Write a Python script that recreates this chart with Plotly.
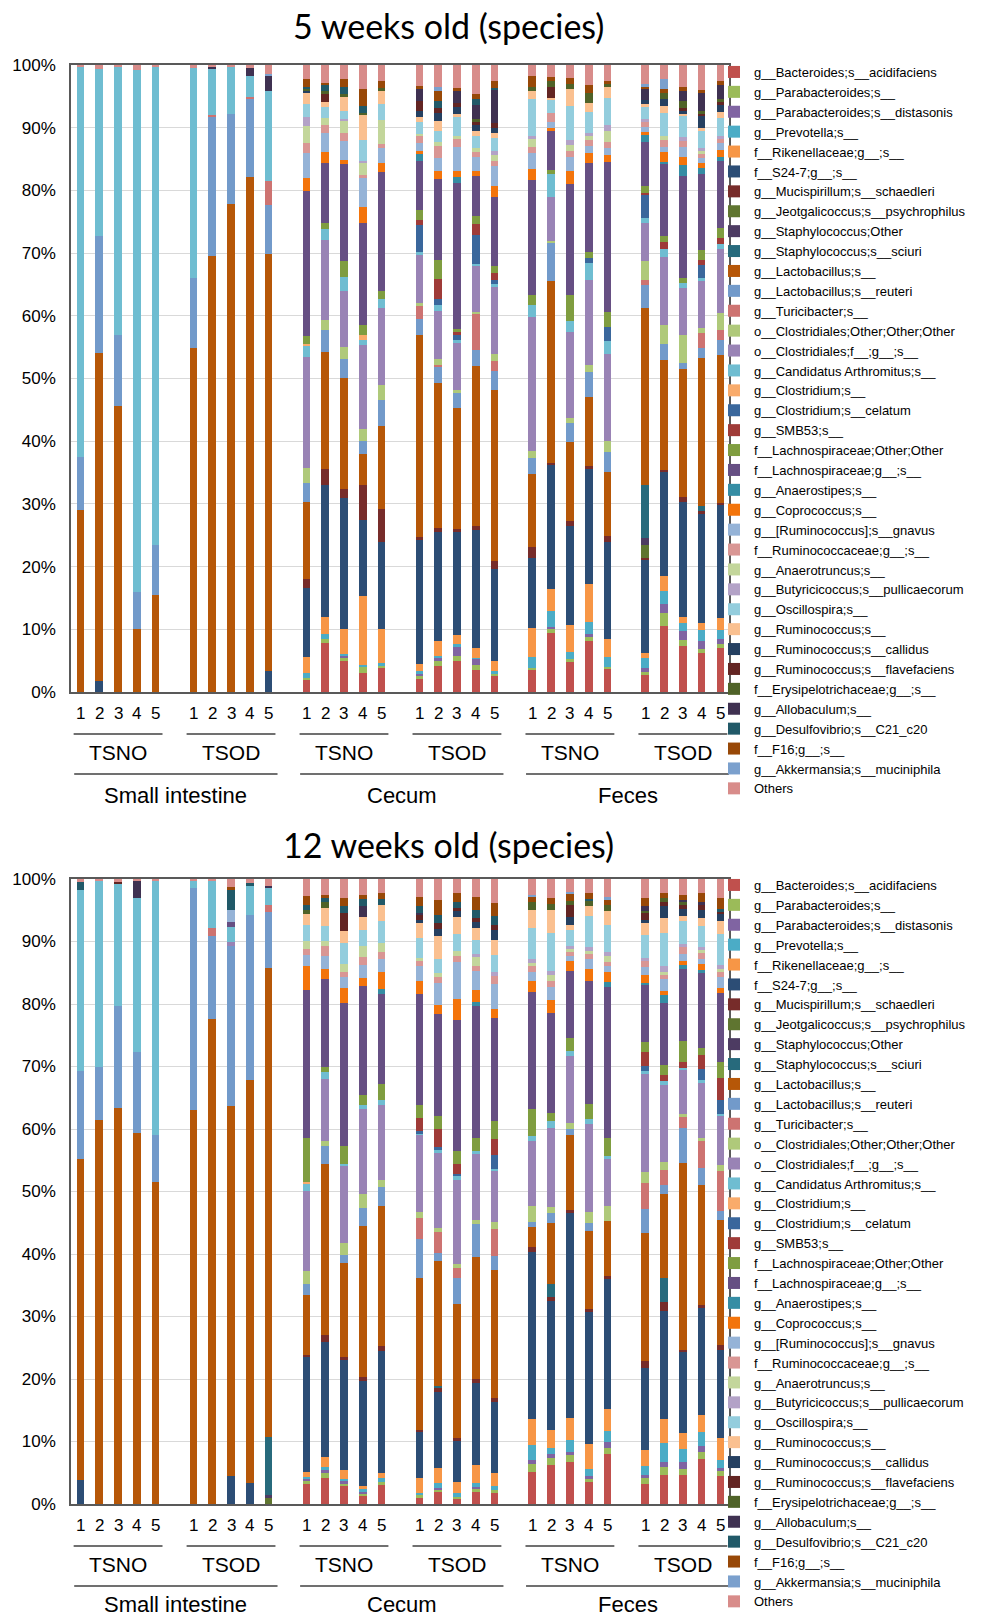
import plotly.graph_objects as go

W, H = 981, 1617

SPECIES = [
    "g__Bacteroides;s__acidifaciens", "g__Parabacteroides;s__", "g__Parabacteroides;s__distasonis",
    "g__Prevotella;s__", "f__Rikenellaceae;g__;s__", "f__S24-7;g__;s__",
    "g__Mucispirillum;s__schaedleri", "g__Jeotgalicoccus;s__psychrophilus", "g__Staphylococcus;Other",
    "g__Staphylococcus;s__sciuri", "g__Lactobacillus;s__", "g__Lactobacillus;s__reuteri",
    "g__Turicibacter;s__", "o__Clostridiales;Other;Other;Other", "o__Clostridiales;f__;g__;s__",
    "g__Candidatus Arthromitus;s__", "g__Clostridium;s__", "g__Clostridium;s__celatum",
    "g__SMB53;s__", "f__Lachnospiraceae;Other;Other", "f__Lachnospiraceae;g__;s__",
    "g__Anaerostipes;s__", "g__Coprococcus;s__", "g__[Ruminococcus];s__gnavus",
    "f__Ruminococcaceae;g__;s__", "g__Anaerotruncus;s__", "g__Butyricicoccus;s__pullicaecorum",
    "g__Oscillospira;s__", "g__Ruminococcus;s__", "g__Ruminococcus;s__callidus",
    "g__Ruminococcus;s__flavefaciens", "f__Erysipelotrichaceae;g__;s__", "g__Allobaculum;s__",
    "g__Desulfovibrio;s__C21_c20", "f__F16;g__;s__", "g__Akkermansia;s__muciniphila", "Others",
]

COLORS = [
    "#C0504D", "#9BBB59", "#8064A2", "#4BACC6", "#F79646", "#2C4D75",
    "#772C2A", "#5F7530", "#4D3B62", "#276A7C", "#B65708", "#729ACA",
    "#CD7371", "#AFC97A", "#9983B5", "#6FBDD1", "#F9AB6B", "#3A679C",
    "#9F3B38", "#7F9D40", "#664F83", "#358DA4", "#F3740B", "#95B3D7",
    "#D99694", "#C3D69B", "#B3A2C7", "#93CDDD", "#FAC090", "#254061",
    "#632523", "#4F6228", "#3F3151", "#215968", "#984807", "#7BA0CD", "#D88C8A",
]

SAMPLES = ["1", "2", "3", "4", "5"]
GROUPS = ["TSNO", "TSOD", "TSNO", "TSOD", "TSNO", "TSOD"]
TISSUES = ["Small intestine", "Cecum", "Feces"]
TITLES = ["5 weeks old (species)", "12 weeks old (species)"]
YTICKS = [0, 10, 20, 30, 40, 50, 60, 70, 80, 90, 100]
YTICKTEXT = ["0%", "10%", "20%", "30%", "40%", "50%", "60%", "70%", "80%", "90%", "100%"]

# ---------------- 5 weeks old (bars: SI TSNO1-5, SI TSOD1-5, Cecum TSNO, Cecum TSOD, Feces TSNO, Feces TSOD)
W5_BACT = [0,0,0,0,0, 0,0,0,0,0, 2.0,7.9,5.0,3.1,3.8, 2.2,4.2,5.0,3.5,2.5, 3.5,9.4,4.8,8.1,3.6, 2.8,10.6,7.3,6.2,7.0]
W5_PARAB = [0,0,0,0,0, 0,0,0,0,0, 0.3,0.5,0.5,0.9,0.4, 0.3,0.8,0.8,0.8,0.4, 0.4,0.7,0.4,0.8,0.4, 0.4,2.0,1.0,0.8,0.7]
W5_PDIST = [0,0,0,0,0, 0,0,0,0,0, 0,0,0.3,0,0, 0.5,0.5,1.3,1.0,0, 0,0.3,0,0.3,0, 0.7,1.5,1.5,1.2,0.7]
W5_PREV = [0,0,0,0,0, 0,0,0,0,0, 0.8,0.8,0.3,0.3,0.5, 0.3,0.3,0.5,0.2,0.5, 1.7,2.6,1.1,2.0,1.6, 1.5,2.0,1.2,1.8,1.5]
W5_RIK = [0,0,0,0,0, 0,0,0,0,0, 2.5,2.8,4.0,11.1,5.4, 1.1,2.3,1.5,1.5,1.5, 4.6,3.5,4.3,6.1,2.8, 0.9,2.4,1.0,1.1,2.0]
W5_S24 = [0,1.7,0,0,0, 0,0,0,0,3.4, 11.1,21.1,20.9,12.1,13.8, 19.9,17.5,16.4,18.9,14.7, 11.1,19.9,15.9,18.2,15.6, 15.0,16.6,18.5,17.6,18.1]
W5_MUCIS = [0,0,0,0,0, 0,0,0,0,0, 1.3,2.5,1.4,5.6,5.4, 0.4,0.7,0.5,0.5,1.3, 1.8,0.3,0.8,0.5,0.9, 0.3,0.3,0.7,0.5,0.3]
W5_JEOT = [0,0,0,0,0, 0,0,0,0,0, 0,0,0,0,0, 0,0,0,0,0, 0,0,0,0,0, 2.0,0,0,0,0]
W5_STAPHO = [0,0,0,0,0, 0,0,0,0,0, 0,0,0,0,0, 0,0,0,0,0, 0,0,0,0,0, 1.1,0,0,0,0]
W5_STAPHS = [0,0,0,0,0, 0,0,0,0,0, 0,0,0,0,0, 0,0,0,0,0, 0,0,0,0,0, 8.5,0,0,0.8,0]
W5_LACTO = [29.0,52.4,45.6,10.1,15.4, 54.9,69.6,77.9,82.1,66.3, 12.4,18.7,17.8,5.0,13.2, 32.3,23.2,19.3,25.6,27.3, 11.7,29.1,12.6,11.1,10.3, 28.5,17.5,20.5,23.8,23.6]
W5_REUT = [8.5,18.7,11.4,5.8,8.0, 11.1,22.2,14.3,12.4,7.8, 3.0,3.6,3.0,2.0,4.2, 2.6,2.6,2.5,2.6,3.0, 2.5,6.1,3.0,3.9,3.1, 3.6,2.6,1.1,1.5,2.4]
W5_TURIC = [0,0,0,0,0, 0,0.2,0,0.4,3.9, 0,0,0,0,0, 2.0,0.2,0,5.8,1.6, 0,0,0,0,0, 0.8,0,0,2.5,1.6]
W5_CLOSO = [0,0,0,0,0, 0,0,0,0,0, 2.4,1.5,2.0,1.9,2.3, 0.5,0.9,0.3,0.2,1.2, 1.2,0.4,0.7,1.1,1.7, 3.2,3.0,4.5,0.7,2.7]
W5_CLOSF = [0,0,0,0,0, 0,0,0,0,0, 17.7,12.8,8.9,13.5,12.3, 7.7,7.7,7.5,7.4,10.7, 21.3,7.1,13.8,13.6,14.0, 6.1,10.9,7.5,7.6,10.2]
W5_CANDID = [62.3,26.5,42.7,83.3,76.3, 33.5,7.5,7.6,3.4,14.3, 1.8,1.8,2.3,0.7,1.5, 0.5,1.0,0.5,0.3,0.5, 2.0,3.6,1.7,2.8,2.1, 0.7,1.3,0.8,0.5,0.9]
W5_CLOST = [0,0,0,0,0, 0,0,0,0,0, 0.3,0,0,0.9,0, 0,0,0,0,0, 0,0,0,0,0, 0,0,0,0,0]
W5_CLOSTCEL = [0,0,0,0,0, 0,0,0,0,0, 0,0,0,0,0, 4.2,1.0,0.8,4.6,0.5, 0,0,0,0.7,2.2, 3.8,0,0,2.1,0]
W5_SMB53 = [0,0,0,0,0, 0,0,0,0,0, 0,0,0,0,0, 0.9,3.2,0.5,1.7,1.2, 0,0,0,0,0, 0.2,1.0,0,0.9,1.0]
W5_LACHO = [0,0,0,0,0, 0,0,0,0,0, 1.3,0.9,2.5,1.5,1.3, 1.5,3.0,0.5,1.3,1.1, 1.5,0.7,4.1,1.0,2.3, 1.2,1.0,0.8,1.5,1.5]
W5_LACHG = [0,0,0,0,0, 0,0,0,0,0, 23.2,9.7,15.4,16.4,19.0, 7.9,13.0,23.3,6.4,11.0, 18.3,6.2,17.7,14.2,24.0, 7.1,11.6,16.3,12.3,10.7]
W5_ANAEROST = [0,0,0,0,0, 0,0,0,0,0, 0,0,0,0,0, 1.1,0,0.9,0,0, 0,0,0,0,0, 1.0,0.3,1.7,0.9,0.7]
W5_COPRO = [0,0,0,0,0, 0,0,0,0,0, 2.1,1.7,0.7,2.5,1.5, 0.5,1.2,1.0,0.8,1.8, 1.8,0.5,2.1,1.5,1.2, 0.5,1.5,1.3,0.8,1.1]
W5_RUMGNAV = [0,0,0,0,0, 0,0,0,0,0, 4.0,3.0,3.1,4.6,2.3, 1.3,2.1,3.8,2.3,3.1, 2.6,0.9,2.3,1.2,1.1, 0.9,0.9,1.7,0.9,1.1]
W5_RUMF = [0,0,0,0,0, 0,0,0,0,0, 1.6,1.3,1.2,0.5,0.7, 1.1,1.9,1.3,0.8,0.9, 1.0,1.5,0.9,1.0,0.9, 0.8,1.1,0.9,0.7,0.7]
W5_ANAEROTR = [0,0,0,0,0, 0,0,0,0,0, 2.6,1.2,2.0,1.9,3.8, 0.3,0.7,0.4,0.5,0.9, 1.2,0,0.9,0.5,1.8, 0,0.5,0,0.3,0]
W5_BUTYR = [0,0,0,0,0, 0,0,0,0,0, 1.5,0,0.3,0.4,0, 0,0,0,0,0.7, 0.5,0,0.9,0.6,0.9, 0.4,0,0.7,0.5,0.5]
W5_OSCILL = [0,0,0,0,0, 0,0,0,0,0, 2.0,1.7,1.3,3.3,2.5, 1.9,1.8,3.1,2.0,2.0, 5.8,2.1,5.4,3.3,4.3, 1.9,3.8,3.3,2.8,2.8]
W5_RUM = [0,0,0,0,0, 0,0,0,0,0, 1.9,0.8,2.3,4.1,2.3, 0.8,1.5,0.5,0.8,0.9, 1.3,0.3,2.7,1.5,1.8, 0.5,1.1,0.5,0.5,1.0]
W5_RUMCALL = [0,0,0,0,0, 0,0,0,0,0, 0.3,0,0,0,0, 0.9,1.3,1.1,0.9,0.8, 0,0,0,0,0, 0.7,1.1,0.3,1.9,1.1]
W5_RUMFLAV = [0,0,0,0,0, 0,0,0,0,0, 0,1.3,0,0,0, 1.7,0.8,0.7,0.5,0.7, 0,1.7,0,0,0, 0,0,0.5,0.3,0.5]
W5_ERYS = [0,0,0,0,0, 0,0,0,0,0, 0.3,0.5,0.3,0.3,0.3, 0,0,0,0.5,0, 0.7,1.1,0.7,1.5,0.5, 0,0.9,1.2,0.5,0.5]
W5_ALLOB = [0,0,0,0,0, 0,0.3,0,1.3,2.4, 0,0,0,0,0, 1.9,0,1.9,2.3,5.4, 0,0,0,0,0, 1.8,0,1.6,2.9,2.2]
W5_DESULF = [0,0,0,0,0, 0,0,0,0,0, 0.3,1.0,1.2,1.0,0, 0,1.2,0,0.8,0.3, 0,0,0,0,0, 0,0,0,0,0]
W5_F16 = [0,0,0,0,0, 0,0,0,0,0, 1.3,0.3,1.3,2.8,1.2, 0.5,1.5,0.5,0.9,1.1, 1.7,0.5,1.1,1.3,0.5, 0.3,0.7,0.5,0.5,0.7]
W5_AKK = [0,0,0,0,0, 0,0,0,0,0.3, 0,0,0,0,0, 0,0.7,0,0,0, 0,0,0,0,0, 0.5,1.5,0,0,0]
W5_OTHERS = [0.2,0.7,0.3,0.8,0.3, 0.5,0.2,0.2,0.4,1.4, 2.2,2.8,2.2,3.8,2.5, 3.3,3.5,3.6,4.6,2.5, 1.8,2.0,2.0,3.2,2.5, 3.0,2.3,3.6,4.0,2.5]

# ---------------- 12 weeks old
W12_BACT = [0,0,0,0,0, 0,0,0,0,0, 3.2,4.2,2.9,1.3,3.1, 0.9,1.9,0.9,1.9,1.9, 5.1,6.3,6.7,3.5,8.0, 3.2,4.7,4.7,7.2,4.5]
W12_PARAB = [0,0,0,0,0, 0,0,0,0,0, 0.5,0.7,0.3,0.4,0.5, 0.5,0.5,0.3,0.5,0.3, 1.3,1.1,1.1,0.5,1.0, 0.9,1.3,1.0,1.1,0.8]
W12_PDIST = [0,0,0,0,0, 0,0,0,0,0, 0.3,0.5,0.5,0.2,0, 0,0.2,0,0.4,0, 0.7,0.6,0.5,0.5,0.9, 0.5,0.7,1.0,1.0,0.5]
W12_PREV = [0,0,0,0,0, 0,0,0,0,0, 0.4,0.5,0.3,0.5,0.5, 0.4,0.7,0.5,0.5,0.7, 2.3,1.0,2.0,1.1,1.9, 1.5,3.1,2.1,2.2,1.3]
W12_RIK = [0,0,0,0,0, 0,0,0,0,0, 0.8,1.7,1.5,0.5,0.9, 2.3,2.5,1.9,3.0,2.0, 4.3,2.9,3.5,4.1,3.5, 2.5,3.9,2.7,2.7,3.5]
W12_S24 = [3.9,0,0,0,0, 0,0,4.5,3.3,0, 18.4,18.4,17.5,16.8,19.6, 7.5,12.2,6.5,13.1,11.5, 26.8,20.6,32.9,21.2,20.8, 13.1,17.2,13.0,17.1,14.2]
W12_MUCIS = [0,0,0,0,0, 0,0,0,0,0, 0.3,1.1,0.5,0.6,0.7, 0.3,0.7,0.5,0.7,0.5, 0.7,0.7,0.4,0.4,0.5, 1.2,1.5,0.3,0.5,0.8]
W12_JEOT = [0,0,0,0,0, 0,0,0,0,0.9, 0,0,0,0,0, 0,0,0,0,0, 0,0,0,0,0, 0,0,0,0,0]
W12_STAPHO = [0,0,0,0,0, 0,0,0,0,0.5, 0,0,0,0,0, 0,0,0,0,0, 0,0,0,0,0, 0,0,0,0,0]
W12_STAPHS = [0,0,0,0,0, 0,0,0,0,9.3, 0,0,0,0,0, 0,0.3,0,0,0, 0,2.1,0,0,0, 0,3.8,0,0,0]
W12_LACTO = [51.1,61.5,63.4,59.4,51.6, 62.9,77.6,59.2,64.5,75.0, 9.6,27.4,15.1,24.2,22.5, 24.3,20.0,21.6,19.5,20.5, 3.3,9.7,12.1,12.6,8.8, 20.5,13.5,30.1,19.1,20.0]
W12_REUT = [14.0,8.4,16.3,12.9,7.5, 35.6,13.3,25.6,26.5,9.0, 1.7,2.9,1.2,3.0,3.0, 6.3,1.3,4.2,5.3,2.3, 0.7,1.6,1.0,1.3,0, 3.8,1.5,5.7,2.7,1.5]
W12_TURIC = [0,0,0,0,0, 0,1.3,0,0,1.1, 0,0,0,0,0, 3.3,3.3,1.5,0,4.4, 0,0,0,0,0, 4.2,2.3,1.7,4.5,6.5]
W12_CLOSO = [0,0,0,0,0, 0,0,0,0,0, 2.1,0.8,2.0,2.2,1.1, 0.9,0.7,0.7,0.7,1.1, 2.7,1.0,0.9,1.7,2.5, 1.8,1.3,0.5,0.3,0.9]
W12_CLOSF = [0,0,0,0,0, 0,0,0.7,0,0, 12.8,10.0,12.3,13.6,12.1, 12.4,12.0,13.5,10.5,8.2, 10.3,12.7,10.8,14.2,7.5, 15.6,12.4,7.2,8.8,7.9]
W12_CANDID = [28.9,29.9,19.5,24.6,40.7, 1.1,7.5,2.3,4.7,2.7, 1.2,1.1,0.3,0.7,0.7, 0.3,0.5,0.7,0.5,0.3, 0.9,1.1,0.7,0.7,0.5, 0.5,0.6,0.2,0.5,0.3]
W12_CLOST = [0,0,0,0,0, 0,0,0,0,0, 0.2,0,0,0,0, 0,0,0,0,0, 0,0,0,0,0, 0,0,0,0,0]
W12_CLOSTCEL = [0,0,0,0,0, 0,0,0,0,0, 0,0,0,0,0, 0.3,0.5,0.2,0,2.2, 0,0,0,0,0, 0.8,0,0,1.8,2.3]
W12_SMB53 = [0,0,0,0,0, 0,0,0,0,0, 0,0,0,0,0, 2.2,2.9,1.7,0,2.5, 0,0,0,0,0, 2.2,0.9,0.9,2.2,3.5]
W12_LACHO = [0,0,0,0,0, 0,0,0,0,0, 7.1,0.7,2.9,1.5,2.7, 2.0,2.1,2.0,2.1,2.9, 4.3,1.2,2.1,2.4,2.9, 1.6,1.7,3.5,1.1,2.5]
W12_LACHG = [0,0,0,0,0, 0,0,0.8,0,0, 23.8,14.1,22.8,17.6,14.4, 17.8,16.3,21.2,21.2,16.5, 18.8,16.1,10.8,19.8,24.3, 9.2,10.0,11.5,12.0,11.1]
W12_ANAEROST = [0,0,0,0,0, 0,0,0,0,0, 0,0,0,0,0.7, 0,0,0,0.7,0, 0,0,0,0,0.7, 0.3,1.2,0.7,0.5,0]
W12_COPRO = [0,0,0,0,0, 0,0,0,0,0, 3.7,1.7,2.5,1.2,2.8, 2.1,1.5,3.3,1.9,1.5, 1.7,2.1,1.5,2.0,1.6, 1.3,0.7,0.6,1.0,0.9]
W12_RUMGNAV = [0,0,0,0,0, 0,0,2.0,0,0, 1.9,2.0,1.7,2.1,2.0, 2.4,3.5,6.0,3.1,4.0, 1.5,2.0,0.9,1.5,1.0, 1.3,1.8,1.2,0.8,1.7]
W12_RUMF = [0,0,0,0,0, 0,0,0,0,0, 0.9,1.7,0.9,1.3,1.2, 0.7,0.9,0.9,0.8,1.3, 0.9,0.9,0.7,0.8,0.7, 0.9,0.7,1.0,0.9,0.9]
W12_ANAEROTR = [0,0,0,0,0, 0,0,0,0,0, 1.3,0.8,1.2,1.7,1.5, 0.5,0.7,0.9,1.5,0, 0.6,1.0,0.3,0.5,0.9, 0,0.5,0,0.5,0.5]
W12_BUTYR = [0,0,0,0,0, 0,0,0,0,0, 0,0,0,0,0, 0,0,0,0.3,0.6, 0.5,0.7,0.5,0.7,0.7, 0.5,0.9,0.5,0.5,0.5]
W12_OSCILL = [0,0,0,0,0, 0,0,0,0,0, 2.5,2.4,3.3,2.7,3.4, 3.3,2.3,2.7,2.3,2.7, 5.1,6.0,2.7,4.9,4.3, 3.7,5.3,3.7,3.3,5.1]
W12_RUM = [0,0,0,0,0, 0,0,0,0,0, 1.8,2.9,2.0,2.0,2.6, 2.5,3.7,2.7,2.0,2.5, 2.9,3.8,0.7,1.7,2.2, 2.0,2.5,0.9,1.3,2.0]
W12_RUMCALL = [0,0,0,0,0, 0,0,0,0,0, 0,0,0,0,0, 0.3,1.1,0.9,0.9,1.5, 0,0,1.3,0,0, 0.3,1.8,1.0,1.2,1.1]
W12_RUMFLAV = [0,0,0.3,0,0, 0,0,0,0,0, 0,0,2.8,0,0, 0.9,0.9,0.5,0.7,0.8, 0,0,2.0,0,0, 1.1,0.7,0.7,0.9,0.5]
W12_ERYS = [0,0,0,0,0, 0,0,0,0,0, 0.7,0.9,0,0,0, 0,0,0,0,0, 1.2,0.9,0.5,0.8,1.1, 0.4,0.7,0.5,0,0]
W12_ALLOB = [0,0,0,2.8,0, 0,0,0,0,0.3, 0,0,0,1.7,0, 0.3,0,0,0,0, 0,0,0,0,0, 0.8,0,0.3,0.5,0]
W12_DESULF = [1.3,0,0,0,0, 0,0,3.1,0.3,0, 0.7,0.7,1.2,1.2,1.0, 1.0,1.3,1.0,1.3,1.5, 0,0,0,0.3,0, 0,0,0,0,0.3]
W12_F16 = [0,0,0,0,0, 0,0,0.5,0,0, 1.5,0.5,1.2,0.7,0.9, 1.5,2.5,1.5,2.0,2.1, 0.9,1.0,1.2,1.0,0.7, 1.2,0.7,0.9,1.3,1.9]
W12_AKK = [0,0,0,0,0, 0,0,0,0,0, 0,0,0,0,0, 0,0,0,0,0, 0.3,0,0.3,0,0.5, 0,0,0,0,0]
W12_OTHERS = [0.5,0.2,0.5,0.3,0.2, 0.3,0.3,1.3,0.7,1.1, 2.7,2.5,3.1,2.5,2.3, 2.9,3.3,2.2,2.9,3.8, 2.5,3.0,2.1,2.2,2.9, 3.1,2.3,2.5,2.3,3.0]

W5 = [W5_BACT, W5_PARAB, W5_PDIST, W5_PREV, W5_RIK, W5_S24, W5_MUCIS, W5_JEOT, W5_STAPHO,
      W5_STAPHS, W5_LACTO, W5_REUT, W5_TURIC, W5_CLOSO, W5_CLOSF, W5_CANDID, W5_CLOST,
      W5_CLOSTCEL, W5_SMB53, W5_LACHO, W5_LACHG, W5_ANAEROST, W5_COPRO, W5_RUMGNAV, W5_RUMF,
      W5_ANAEROTR, W5_BUTYR, W5_OSCILL, W5_RUM, W5_RUMCALL, W5_RUMFLAV, W5_ERYS, W5_ALLOB,
      W5_DESULF, W5_F16, W5_AKK, W5_OTHERS]
W12 = [W12_BACT, W12_PARAB, W12_PDIST, W12_PREV, W12_RIK, W12_S24, W12_MUCIS, W12_JEOT, W12_STAPHO,
       W12_STAPHS, W12_LACTO, W12_REUT, W12_TURIC, W12_CLOSO, W12_CLOSF, W12_CANDID, W12_CLOST,
       W12_CLOSTCEL, W12_SMB53, W12_LACHO, W12_LACHG, W12_ANAEROST, W12_COPRO, W12_RUMGNAV, W12_RUMF,
       W12_ANAEROTR, W12_BUTYR, W12_OSCILL, W12_RUM, W12_RUMCALL, W12_RUMFLAV, W12_ERYS, W12_ALLOB,
       W12_DESULF, W12_F16, W12_AKK, W12_OTHERS]

# bar slot positions: 6 groups of 5 bars, one empty slot between groups
POS = [g * 6 + i for g in range(6) for i in range(5)]
BAR_W = 0.40

fig = go.Figure()
for k, name in enumerate(SPECIES):
    fig.add_trace(go.Bar(x=POS, y=W5[k], name=name, width=BAR_W,
                         marker=dict(color=COLORS[k], line=dict(width=0)),
                         xaxis="x", yaxis="y", legend="legend"))
for k, name in enumerate(SPECIES):
    fig.add_trace(go.Bar(x=POS, y=W12[k], name=name, width=BAR_W,
                         marker=dict(color=COLORS[k], line=dict(width=0)),
                         xaxis="x2", yaxis="y2", legend="legend2"))

def px_x(p):
    return p / W

def px_y(p):
    return 1 - p / H

XDOM = [px_x(71), px_x(729)]
XR = [-0.5, 34.45]
FRAME = "#595959"
TXT = "#000000"
FONT = "Liberation Sans, Arial, sans-serif"

xax = dict(domain=XDOM, range=XR, showgrid=False, showticklabels=False, ticks="",
           zeroline=False, showline=True, mirror=True, linecolor=FRAME, linewidth=1.5,
           fixedrange=True)
yax = dict(range=[0, 100], tickvals=YTICKS, ticktext=YTICKTEXT, showgrid=True,
           gridcolor="#D9D9D9", gridwidth=1, zeroline=False, showline=True, mirror=True,
           linecolor=FRAME, linewidth=1.5, ticks="", ticklabelstandoff=10,
           tickfont=dict(family=FONT, size=17, color=TXT), fixedrange=True)

panels = [
    dict(top=65, bottom=692, title=26, tissue=796),
    dict(top=879, bottom=1504, title=844, tissue=1604),
]

fig.update_layout(
    width=W, height=H,
    margin=dict(l=0, r=0, t=0, b=0, autoexpand=False),
    barmode="stack", barnorm="percent",
    plot_bgcolor="white", paper_bgcolor="white",
    font=dict(family=FONT, color=TXT),
    xaxis=dict(xax, anchor="y"),
    xaxis2=dict(xax, anchor="y2"),
    yaxis=dict(yax, domain=[px_y(panels[0]["bottom"]), px_y(panels[0]["top"])], anchor="x"),
    yaxis2=dict(yax, domain=[px_y(panels[1]["bottom"]), px_y(panels[1]["top"])], anchor="x2"),
    legend=dict(x=px_x(714), y=px_y(57), xanchor="left", yanchor="top", traceorder="normal",
                font=dict(family=FONT, size=13, color=TXT), bgcolor="rgba(0,0,0,0)"),
    legend2=dict(x=px_x(714), y=px_y(870), xanchor="left", yanchor="top", traceorder="normal",
                 font=dict(family=FONT, size=13, color=TXT), bgcolor="rgba(0,0,0,0)"),
    showlegend=True,
)

annotations = []
shapes = []
for p, (xref, pan) in enumerate([("x", panels[0]), ("x2", panels[1])]):
    b = pan["bottom"]
    annotations.append(dict(text=TITLES[p], xref="paper", yref="paper", x=px_x(448), y=px_y(pan["title"]),
                            xanchor="center", yanchor="middle", showarrow=False,
                            font=dict(family="Lato, Open Sans, sans-serif", size=34, color=TXT)))
    # sample numbers
    for j, xp in enumerate(POS):
        annotations.append(dict(text=SAMPLES[j % 5], xref=xref, yref="paper", x=xp, y=px_y(b + 21),
                                xanchor="center", yanchor="middle", showarrow=False,
                                font=dict(family=FONT, size=17, color=TXT)))
    # group labels + short lines
    for g in range(6):
        c = g * 6 + 2
        annotations.append(dict(text=GROUPS[g], xref=xref, yref="paper", x=c, y=px_y(b + 60),
                                xanchor="center", yanchor="middle", showarrow=False,
                                font=dict(family=FONT, size=21, color=TXT)))
        shapes.append(dict(type="line", xref=xref, yref="paper", x0=g * 6 - 0.36, x1=g * 6 + 4.36,
                           y0=px_y(b + 42), y1=px_y(b + 42), line=dict(color="#404040", width=1.5)))
    # tissue labels + long lines
    for t in range(3):
        x0, x1 = 12 * t - 0.33, 12 * t + 10.47
        annotations.append(dict(text=TISSUES[t], xref=xref, yref="paper", x=(x0 + x1) / 2, y=px_y(pan["tissue"]),
                                xanchor="center", yanchor="middle", showarrow=False,
                                font=dict(family=FONT, size=22, color=TXT)))
        shapes.append(dict(type="line", xref=xref, yref="paper", x0=x0, x1=x1,
                           y0=px_y(b + 82), y1=px_y(b + 82), line=dict(color="#404040", width=1.5)))

fig.update_layout(annotations=annotations, shapes=shapes)
fig.write_html("out.html")
